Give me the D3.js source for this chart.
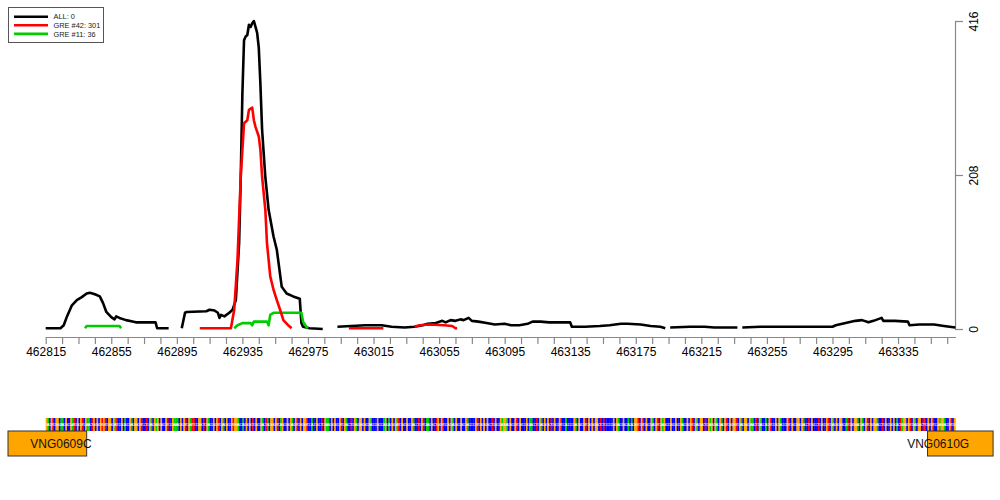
<!DOCTYPE html>
<html><head><meta charset="utf-8">
<script src="https://cdn.jsdelivr.net/npm/d3@7/dist/d3.min.js"></script>
<style>body{margin:0;background:#fff}svg{display:block;font-family:"Liberation Sans",Arial,sans-serif}</style>
</head><body><svg id="c" width="1000" height="500"></svg>
<script>
// ---- data ----
const domainStart = 462815, domainEnd = 463370;
const xTickLabels = [462815,462855,462895,462935,462975,463015,463055,463095,463135,463175,463215,463255,463295,463335];
const yTickLabels = [0,208,416];

// ALL (black) — null marks a gap
const allPos = [462815,462824,462826,462828,462831,462834,462837,462840,462842,462845,462848,462850,462852,462855,462857,462858,462860,462864,462868,462870,462882,462883,462890,
  462894,
  462898,462900,462901,462913,462915,462918,462920,462921,462922,462924,462927,462929,462931,462933,462934,462935,462936,462937,462938,462939,462940,462941,462942,462943,462944,462945,462946,462947,462949,462951,462954,462956,462959,462962,462966,462970,462971,462972,462976,462984,
  462988,
  462993,463010,463020,463026,463034,463040,463045,463048,463053,463057,463059,463062,463065,463068,463070,463073,463075,463079,463084,463089,463095,463099,463104,463109,463112,463117,463122,463132,463135,463136,463144,463153,463159,463166,463170,463178,463184,463190,463193,
  463194.5,
  463196,463208,463217,463223,463237,
  463238.5,
  463240,463251,463269,463281,463295,463297,463303,463309,463313,463317,463320,463325,463326,463333,463341,463342,463348,463357,463363,463370];
const allVal = [1,1,5,17,32,39,43,48,49,47,44,35,23,16,13,17,15,12,10,9,9,1,1,
  null,
  1,22,23,24,26,25,22,15,19,17,22,26,39,116,206,318,390,395,397,411,408,413,416,408,400,380,330,270,205,161,125,107,57,48,44,41,8,3,1,0,
  null,
  3,5,5,3,2,3,5,7,8,11,9,12,11,13,12,15,11,10,8,6,7,5,5,7,10,10,9,9,9,3,3,4,5,7,7,6,4,3,1,
  null,
  2,3,3,2,2,
  null,
  2,3,3,3,3,5,8,11,12,9,11,15,11,11,10,5,6,6,4,2];

// GRE #42 (red)
const gre42Pos = [462909,462928,462930,462932,462934,462936,462938,462939,462941,462942,462943,462945,462946,462947,462949,462950,462952,462954,462956,462958,462960,462963,462965,
  462980,
  463000,463021,
  463030,
  463040,463043,463049,463058,463063,463065,463066];
const gre42Val = [1,1,26,93,206,278,282,296,299,282,273,260,242,206,161,116,71,53,39,26,12,5,1,
  null,
  1,1,
  null,
  3,5,6,5,4,1,1];

// GRE #11 (green)
const gre11Pos = [462839,462840,462860,462861,
  462900,
  462930,462932,462935,462940,462941,462942,462950,462951,462952,462954,462971,462972,462974,462975];
const gre11Val = [1,4,4,1,
  null,
  1,5,8,8,5,10,10,5,19,22,22,10,3,1];

const seriesNames = ["ALL: 0","GRE #42: 301","GRE #11: 36"];
const seriesColors = ["#000000","#FF0000","#00CD00"];

const genes = [
  {name:"VNG0609C", start:462792, end:462840, labelAt:462824.3},
  {name:"VNG0610G", start:463353, end:463393, labelAt:463359.5}
];

const sequence =
 "GACGTCGGCAACGCCGATCGCGTCGAACTGCGCGTGTCGGCGATCCGCAC" +
 "CGACGGCGTCCTCGACGAGCGCCGTCCGAAACGCGTCGATTCCGGCTCGA" +
 "CCGCGTCGACGCCGTGGACCACGCGCTCGCCGACTACGGCGTCAGCCGCG" +
 "ACGTCGCGGTCCACCGCCTCGAACGCGCCGTCGACCTCGACGGCGCCGAC" +
 "CCGCCCAGCACGCGATCGCCGCCGACCTCGTCAACGCCTGCGTCCGCGAC" +
 "GCCGCCGACCCCGTCGCGCGCCTCGCCGAGGACGCCGTCGCCCGCAACCT" +
 "CGACGCGCTCGCCGTCCACCCCGACGCCGTCGCGCGGCTCTCCCCCGCGA" +
 "CCGCCACACGGTCGTCGCCGACGTCGAGCCCGCCGCCGACCGCGTCGACG" +
 "GCTCGAGCGACGACGTCGCGGTCGACGGCGAACTCGACCACGTCCGCGAC" +
 "CCGTCGCCGGCGACCTCGCCCTCGCCGTCGACGCGGCCATCGCGGACGAC" +
 "GTCGCGGACCTCGCCGCGCACTAGGCGTCGACGGCTTCGCGTCCGAGGACCGTCG";
const baseColors = {A:"#00CD00", C:"#0000FF", G:"#FFA500", T:"#FF0000"};

// ---- drawing ----
const svg = d3.select("#c");
const x = d3.scaleLinear().domain([domainStart, domainEnd]).range([45.7, 955.4]);
const y = d3.scaleLinear().domain([0, 416]).range([329, 21]);

// x axis
const xAxis = d3.axisBottom(x)
  .tickValues(d3.range(domainStart, domainEnd, 10))
  .tickFormat(d => xTickLabels.includes(d) ? d : "")
  .tickSize(7).tickSizeOuter(0).tickPadding(3);
const gx = svg.append("g").attr("transform","translate(0,337)").call(xAxis);
gx.select(".domain").attr("stroke","#888").attr("stroke-width",1.2);
gx.selectAll(".tick line").attr("stroke","#888").attr("stroke-width",1.2);
gx.selectAll(".tick text").attr("fill","#000").style("font-size","12px").style("font-family","Liberation Sans, Arial, sans-serif");

// y axis (right)
const yAxis = d3.axisRight(y).tickValues(yTickLabels).tickSize(8).tickSizeOuter(0);
const gy = svg.append("g").attr("transform","translate(955,0)").call(yAxis);
gy.select(".domain").attr("stroke","#888").attr("stroke-width",1.2);
gy.selectAll(".tick line").attr("stroke","#888").attr("stroke-width",1.2);
gy.selectAll(".tick text").attr("fill","#000").style("font-size","12px").style("font-family","Liberation Sans, Arial, sans-serif")
  .attr("transform","rotate(-90)").attr("x",0).attr("y",23).attr("dy",0).attr("text-anchor","middle");

// lines
function drawSeries(pos, val, color){
  const data = pos.map((p,i)=>({p, v: val[i]}));
  const line = d3.line().defined(d=>d.v!==null).x(d=>x(d.p)).y(d=>y(d.v));
  svg.append("path").datum(data).attr("d",line).attr("fill","none")
    .attr("stroke",color).attr("stroke-width",2.6).attr("stroke-linejoin","round");
}
drawSeries(allPos, allVal, seriesColors[0]);
drawSeries(gre11Pos, gre11Val, seriesColors[2]);
drawSeries(gre42Pos, gre42Val, seriesColors[1]);

// legend
const lg = svg.append("g");
lg.append("rect").attr("x",8.5).attr("y",7.5).attr("width",95).attr("height",35)
  .attr("fill","#fff").attr("stroke","#555").attr("stroke-width",1);
seriesNames.forEach((n,i)=>{
  const yy = 16.7 + i*8.6;
  lg.append("line").attr("x1",14).attr("x2",48).attr("y1",yy).attr("y2",yy)
    .attr("stroke",seriesColors[i]).attr("stroke-width",2.6);
  lg.append("text").attr("x",53.5).attr("y",yy+2.6).text(n)
    .style("font-size","7.4px").attr("fill","#222");
});

// sequence strip
const bw = x(domainStart+1)-x(domainStart);
const seqG = svg.append("g");
const bases = sequence.split("").map((b,i)=>({b, p: domainStart + i}));
seqG.selectAll("rect").data(bases).join("rect")
  .attr("x",d=>x(d.p)).attr("y",418).attr("width",bw+0.3).attr("height",13)
  .attr("fill",d=>baseColors[d.b]);
seqG.selectAll("text").data(bases).join("text")
  .attr("x",d=>x(d.p)+bw/2).attr("y",426).attr("text-anchor","middle")
  .style("font-size","4px").attr("fill","#fff").text(d=>d.b);

// genes
genes.forEach(g=>{
  svg.append("rect").attr("x",x(g.start)).attr("y",431).attr("width",x(g.end)-x(g.start)).attr("height",25)
    .attr("fill","#FFA500").attr("stroke","#333").attr("stroke-width",1);
  svg.append("text").attr("x",x(g.labelAt)).attr("y",448).attr("text-anchor","middle")
    .style("font-size","12px").attr("fill","#111").text(g.name);
});
</script></body></html>
